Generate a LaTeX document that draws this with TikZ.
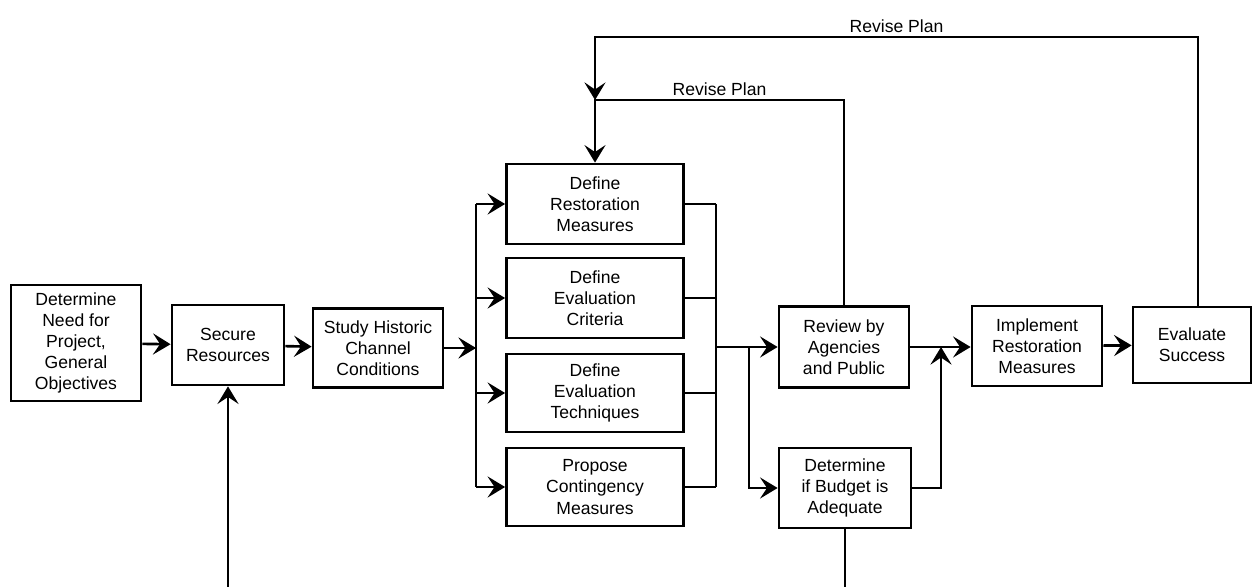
\documentclass[tikz,border=0pt]{standalone}
\usepackage{fontspec}
\setmainfont{Liberation Sans}
\usetikzlibrary{arrows.meta,positioning,calc}

\begin{document}
\begin{tikzpicture}[x=0.02cm,y=-0.02cm,
  box/.style={draw,line width=1.6pt,align=center,inner sep=1pt,
    font=\fontsize{10}{12}\selectfont},
  flow/.style={line width=1.5pt},
  arr/.style={flow,-{Stealth[length=10pt,width=12pt,inset=4pt]}},
  loop/.style={arr,line width=1.2pt},
  note/.style={font=\fontsize{10}{12}\selectfont,inner sep=2pt}]
\useasboundingbox (0,0) rectangle (1253,587);
% boxes
\node[box,minimum width=2.6cm,minimum height=2.32cm] (need) at (76,343) {Determine\\Need for\\Project,\\General\\Objectives};
\node[box,minimum width=2.24cm,minimum height=1.6cm] (secure) at (228,345) {Secure\\Resources};
\node[box,minimum width=2.6cm,minimum height=1.58cm] (study) at (378,348) {Study Historic\\Channel\\Conditions};
\node[box,minimum width=3.54cm,minimum height=1.6cm] (restore) at (595,204) {Define\\Restoration\\Measures};
\node[box,minimum width=3.54cm,minimum height=1.6cm] (criteria) at (595,298) {Define\\Evaluation\\Criteria};
\node[box,minimum width=3.54cm,minimum height=1.56cm] (techniques) at (595,393) {Define\\Evaluation\\Techniques};
\node[box,minimum width=3.54cm,minimum height=1.56cm] (contingency) at (595,487) {Propose\\Contingency\\Measures};
\node[box,minimum width=2.6cm,minimum height=1.62cm] (review) at (844,347) {Review by\\Agencies\\and Public};
\node[box,minimum width=2.64cm,minimum height=1.6cm] (budget) at (845,488) {Determine\\if Budget is\\Adequate};
\node[box,minimum width=2.6cm,minimum height=1.6cm] (implement) at (1037,346) {Implement\\Restoration\\Measures};
\node[box,minimum width=2.36cm,minimum height=1.52cm] (evaluate) at (1192,345) {Evaluate\\Success};
% junctions
\coordinate (split) at (476,348);
\coordinate (join) at (716,347);
\coordinate (fork) at (749,347);
\coordinate (merge) at (941,347);
\coordinate (outer) at (595,37);
\coordinate (inner) at (595,100);
\coordinate (fundin) at (228,587);
\coordinate (budgetout) at (845,587);
% main flow
\draw[arr] (need) -- (secure);
\draw[arr] (secure) -- (study);
\draw[arr] (study) -- (split);
\draw[flow] (split |- restore) -- (split |- contingency);
\draw[flow] (join |- restore) -- (join |- contingency);
\foreach \b in {restore,criteria,techniques,contingency} {
  \draw[arr] (split |- \b.west) -- (\b.west);
  \draw[flow] (\b.east) -- (join |- \b.east);
}
\draw[arr] (join) -- (review.west |- join);
\draw[arr] (fork) |- (budget.west);
\draw[arr] (review.east |- merge) -- (implement.west |- merge);
\draw[arr] (budget.east) -| (merge);
\draw[arr] (implement) -- (evaluate);
% feedback
\draw[loop] ([xshift=0.12cm]evaluate.north) |- node[note,above,pos=0.75] {Revise Plan} (outer) -- (inner);
\draw[loop] (review.north) |- node[note,above,pos=0.75] {Revise Plan} (inner) -- (restore.north);
\draw[arr] (fundin) -- (secure.south);
\draw[flow] (budget.south) -- (budgetout);
\end{tikzpicture}
\end{document}
